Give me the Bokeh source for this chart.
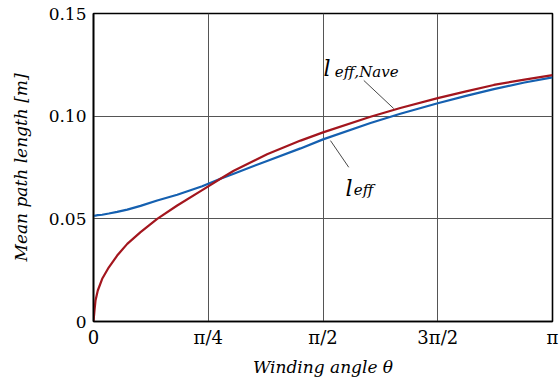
from bokeh.plotting import figure
from bokeh.models import FixedTicker, Label, Range1d
from bokeh.embed import file_html
from bokeh.resources import INLINE
import math

# ---- data ----
theta = [0, 0.0068, 0.0137, 0.0294, 0.0595, 0.105, 0.162, 0.231, 0.322, 0.436, 0.573,
         0.744, 0.869, 0.960, 1.188, 1.417, 1.571, 1.896, 2.1, 2.356, 2.55, 2.74, 2.95, math.pi]
l_eff_nave = [0, 0.0054, 0.0102, 0.0151, 0.0208, 0.0264, 0.0321, 0.0378, 0.0435, 0.0500, 0.0565,
              0.0640, 0.0695, 0.0734, 0.0815, 0.0881, 0.0921, 0.0997, 0.1040, 0.1088, 0.1121,
              0.1152, 0.1178, 0.1200]
l_eff = [0.0515, 0.0515, 0.0516, 0.0518, 0.0520, 0.0526, 0.0534, 0.0545, 0.0563, 0.0589, 0.0617,
         0.0659, 0.0695, 0.0720, 0.0782, 0.0843, 0.0887, 0.0967, 0.1012, 0.1063, 0.1099,
         0.1132, 0.1164, 0.1189]

x_ticks = [0, math.pi / 4, math.pi / 2, 3 * math.pi / 4, math.pi]
x_tick_labels = ["0", "π/4", "π/2", "3π/2", "π"]
y_ticks = [0, 0.05, 0.10, 0.15]
y_tick_labels = ["0", "0.05", "0.10", "0.15"]

FONT = "DejaVu Serif"
RED = "#a3161e"
BLUE = "#1560b0"

p = figure(frame_width=459, frame_height=308, output_backend="svg", toolbar_location=None,
           x_range=Range1d(0, math.pi), y_range=Range1d(0, 0.15),
           min_border_left=93, min_border_right=7, min_border_top=13, min_border_bottom=59)
p.background_fill_color = "white"
p.border_fill_color = "white"
p.outline_line_color = "black"
p.outline_line_width = 1.6

for ax, ticks, labels in ((p.xaxis, x_ticks, x_tick_labels), (p.yaxis, y_ticks, y_tick_labels)):
    ax.ticker = FixedTicker(ticks=ticks)
    ax.major_label_overrides = {t: l for t, l in zip(ticks, labels)}
    ax.major_label_text_font = FONT
    ax.major_label_text_color = "black"
    ax.axis_line_color = "black"
    ax.axis_line_width = 1.6
    ax.major_tick_in = 0
    ax.major_tick_out = 0
    ax.minor_tick_line_color = None
    ax.axis_label_text_font = FONT
    ax.axis_label_text_font_size = "17px"
    ax.axis_label_text_font_style = "italic"
    ax.axis_label_text_color = "black"
p.xaxis.major_label_text_font_size = "18px"
p.yaxis.major_label_text_font_size = "17px"
p.xaxis.major_label_standoff = 5
p.yaxis.major_label_standoff = 7
p.xaxis.axis_label = "Winding angle θ"
p.yaxis.axis_label = "Mean path length [m]"
p.xaxis.axis_label_standoff = 6
p.yaxis.axis_label_standoff = 15

p.grid.grid_line_color = "#555555"
p.grid.grid_line_width = 1
p.xgrid.ticker = FixedTicker(ticks=x_ticks)
p.ygrid.ticker = FixedTicker(ticks=y_ticks)

p.line(theta, l_eff, line_color=BLUE, line_width=2.2)
p.line(theta, l_eff_nave, line_color=RED, line_width=2.2)

# leader lines for the curve labels
p.segment(x0=[1.850, 1.622], y0=[0.1174, 0.0881], x1=[2.055, 1.747], y1=[0.1037, 0.0751],
          line_color="#333333", line_width=0.9)

def lab(x, y, text, size, style="italic"):
    p.add_layout(Label(x=x, y=y, text=text, text_font=FONT, text_font_size=size,
                       text_font_style=style, text_align="left",
                       text_baseline="alphabetic", text_color="black"))

# curve labels
lab(1.574, 0.1232, "l", "22px")
lab(1.652, 0.1213, "eff,Nave", "15px")
lab(1.725, 0.0648, "l", "22px")
lab(1.782, 0.0638, "eff", "15px")

open("out.html", "w").write(file_html(p, INLINE))
